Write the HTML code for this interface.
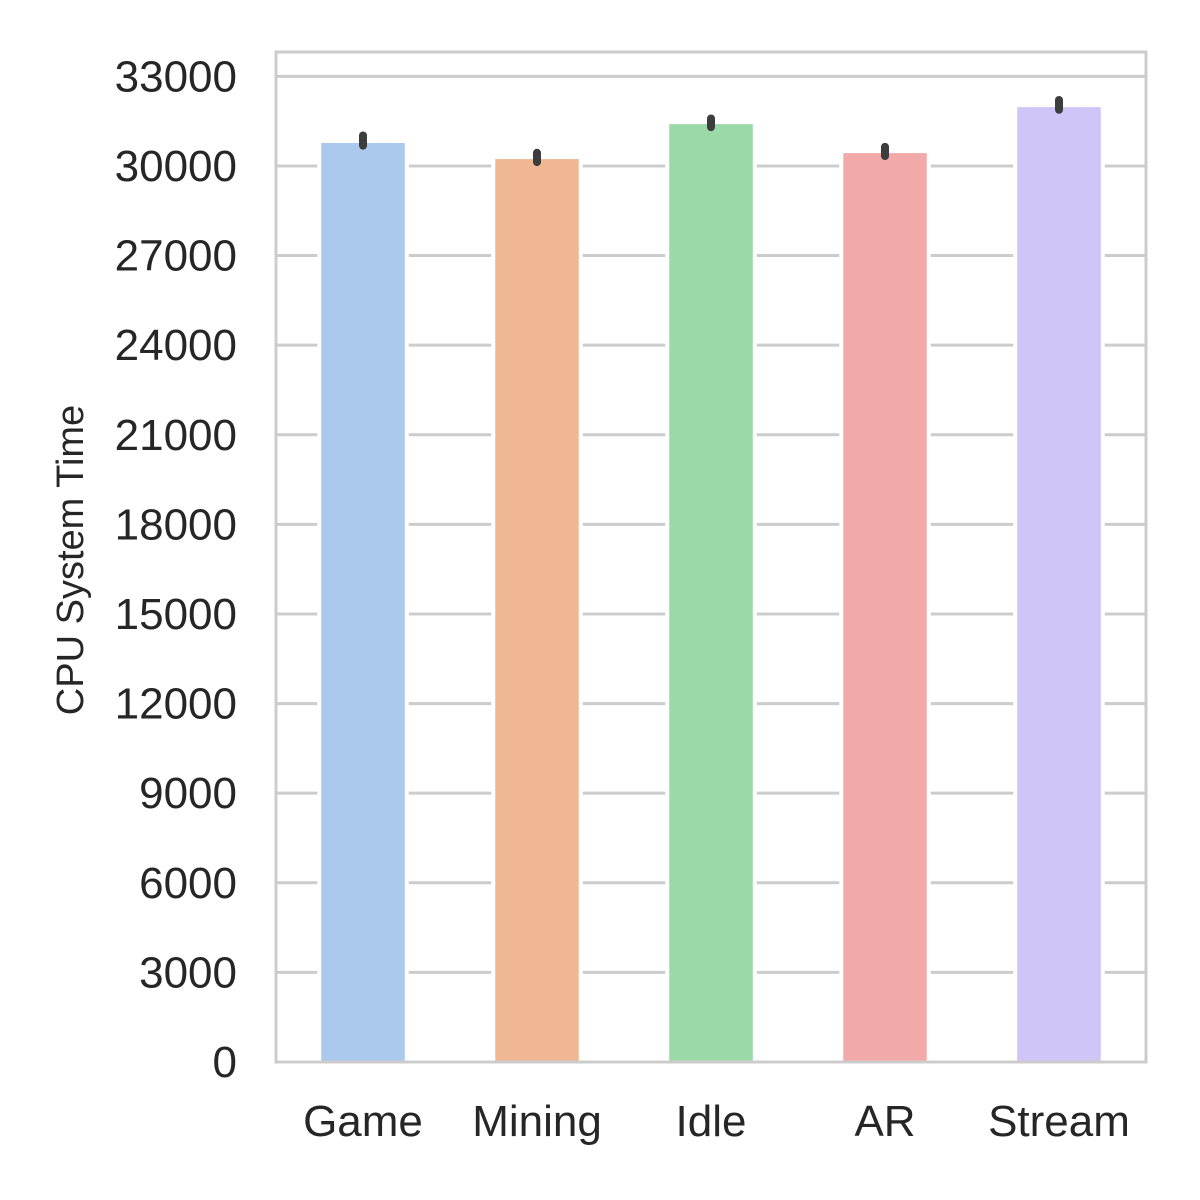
<!DOCTYPE html>
<html><head><meta charset="utf-8"><style>
html,body{margin:0;padding:0;background:#fff;overflow:hidden;width:1200px;height:1200px}
svg{display:block}
svg text{font-family:"Liberation Sans",Arial,sans-serif;fill:#262626}
</style></head><body>
<svg id="chart" width="1200" height="1200" xmlns="http://www.w3.org/2000/svg"></svg>
<script>
const categories=["Game","Mining","Idle","AR","Stream"];
const values=[30770,30230,31400,30430,31970];
const errLow=[30680,30130,31300,30330,31880];
const errHigh=[31020,30440,31590,30640,32210];
const colors=["#abc9ec","#f0b793","#9ad9a8","#f1aaa8","#d1c4f6"];
const ticks=[0,3000,6000,9000,12000,15000,18000,21000,24000,27000,30000,33000];
const L=276,R=1146,T=52,B=1062,yMax=33815;
const NS="http://www.w3.org/2000/svg";
const svg=document.getElementById('chart');
const y=v=>B-(v/yMax)*(B-T);
const step=(R-L)/categories.length;
const x=i=>L+step*(i+0.5);
function mk(t,a){const e=document.createElementNS(NS,t);for(const k in a)e.setAttribute(k,a[k]);svg.appendChild(e);return e;}
ticks.forEach(t=>{
 const g=mk('line',{x1:L,x2:R,y1:y(t),y2:y(t),stroke:'#cccccc','stroke-width':3});
 
 
 const tx=mk('text',{x:237,y:y(t)+15,'text-anchor':'end','font-size':44});
 tx.textContent=t;
 
 
});
categories.forEach((c,i)=>{
 const w=step*0.48;
 const h=mk('rect',{x:x(i)-w/2-4,y:y(values[i])-4,width:w+8,height:B-y(values[i])+2,fill:'#ffffff'});
 
 
 const r=mk('rect',{x:x(i)-w/2,y:y(values[i]),width:w,height:B-y(values[i]),fill:colors[i]});
 
 
 const e=mk('line',{x1:x(i),x2:x(i),y1:y(errLow[i]),y2:y(errHigh[i]),stroke:'#3d3d3d','stroke-width':8,'stroke-linecap':'round'});
 
 
 const tx=mk('text',{x:x(i),y:1136,'text-anchor':'middle','font-size':44});
 tx.textContent=c;
 
 
});
const fr=mk('rect',{x:L,y:T,width:R-L,height:B-T,fill:'none',stroke:'#cccccc','stroke-width':3});


const yl=mk('text',{x:0,y:0,'text-anchor':'middle','font-size':38,transform:'translate(83,560) rotate(-90)'});
yl.textContent='CPU System Time';


</script>
</body></html>
